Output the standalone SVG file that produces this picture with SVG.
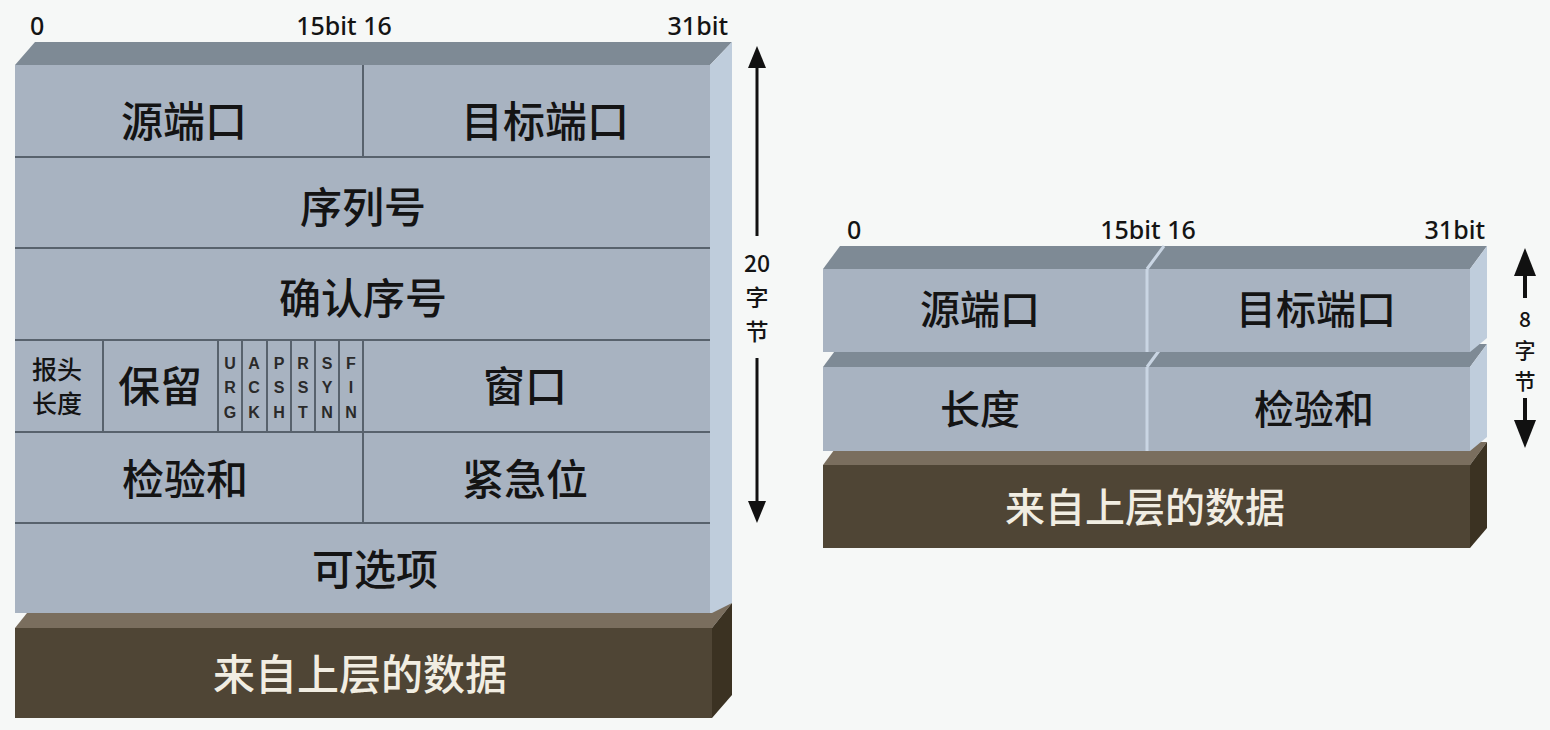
<svg xmlns="http://www.w3.org/2000/svg" width="1550" height="730" viewBox="0 0 1550 730">
<defs>
<style>
.bg{fill:#f6f8f7}
.front{fill:#a8b3c1}
.top{fill:#7e8a95}
.side{fill:#bfcddc}
.dfront{fill:#4f4535}
.dtop{fill:#7a6e5e}
.dside{fill:#3b3222}
.ln{stroke:#58626d;stroke-width:2;fill:none}
.seam{stroke:#c9d5e3;stroke-width:3;fill:none}
.cn{font-family:"Noto Sans CJK SC","Noto Sans",sans-serif;fill:#141414;text-anchor:middle;font-weight:500}
.big{font-size:42px}
.rbig{font-size:40px}
.mid{font-size:23px}
.sm{font-size:21px}
.hl{font-size:25px}
.bit{font-family:"Noto Sans","Open Sans",sans-serif;font-size:25px;fill:#141414;font-weight:500}
.flag{font-family:"Liberation Sans",Arial,sans-serif;font-size:16px;font-weight:bold;fill:#2a2a2a;text-anchor:middle}
.dtxt{font-family:"Noto Sans CJK SC","Noto Sans",sans-serif;font-size:42px;fill:#f1ede2;text-anchor:middle;font-weight:500}
.arr{stroke:#111;stroke-width:3;fill:none}
.arrh{fill:#111}
</style>
</defs>
<rect class="bg" x="0" y="0" width="1550" height="730"/>

<!-- LEFT: TCP header -->
<g id="tcp-bits">
<text class="bit" x="30" y="35">0</text>
<text class="bit" x="344" y="35" text-anchor="middle">15bit 16</text>
<text class="bit" x="728" y="35" text-anchor="end">31bit</text>
</g>
<g id="tcp-data">
<polygon class="dtop" points="15,628 712,628 732,603 35,603"/>
<rect class="dfront" x="15" y="628" width="697" height="90"/>
<polygon class="dside" points="712,628 732,603 732,695 712,718"/>
<text class="dtxt" x="360" y="690">来自上层的数据</text>
</g>
<g id="tcp-header">
<polygon class="top" points="15,65 710,65 732,42 35,42"/>
<polygon class="side" points="710,65 732,42 732,603 712,613 710,613"/>
<rect class="front" x="15" y="65" width="695" height="548"/>
<path class="ln" d="M15,157H710M15,248H710M15,340H710M15,432H710M15,523H710"/>
<path class="ln" d="M363,65V157M363,340V523M103,340V432M218,340V432M242,340V432M267,340V432M291,340V432M315,340V432M339,340V432"/>
</g>
<g id="src-port"><text class="cn big" x="184" y="137">源端口</text></g>
<g id="dst-port"><text class="cn big" x="545" y="137">目标端口</text></g>
<g id="seq"><text class="cn big" x="363" y="223">序列号</text></g>
<g id="ack"><text class="cn big" x="363" y="314">确认序号</text></g>
<g id="hdr-len"><text class="cn hl" x="57" y="379">报头</text><text class="cn hl" x="57" y="413">长度</text></g>
<g id="reserved"><text class="cn big" x="160" y="402">保留</text></g>
<g id="flags">
<text class="flag" x="230" y="369">U</text><text class="flag" x="230" y="393">R</text><text class="flag" x="230" y="418">G</text>
<text class="flag" x="254" y="369">A</text><text class="flag" x="254" y="393">C</text><text class="flag" x="254" y="418">K</text>
<text class="flag" x="279" y="369">P</text><text class="flag" x="279" y="393">S</text><text class="flag" x="279" y="418">H</text>
<text class="flag" x="303" y="369">R</text><text class="flag" x="303" y="393">S</text><text class="flag" x="303" y="418">T</text>
<text class="flag" x="327" y="369">S</text><text class="flag" x="327" y="393">Y</text><text class="flag" x="327" y="418">N</text>
<text class="flag" x="351" y="369">F</text><text class="flag" x="351" y="393">I</text><text class="flag" x="351" y="418">N</text>
</g>
<g id="window"><text class="cn big" x="525" y="402">窗口</text></g>
<g id="checksum"><text class="cn big" x="185" y="495">检验和</text></g>
<g id="urgent"><text class="cn big" x="525" y="495">紧急位</text></g>
<g id="options"><text class="cn big" x="375" y="585">可选项</text></g>
<g id="tcp-size">
<text class="cn mid" x="757" y="272">20</text>
<text class="cn mid" x="757" y="306">字</text>
<text class="cn mid" x="757" y="340">节</text>
</g>

<!-- RIGHT: UDP header -->
<g id="udp-bits">
<text class="bit" x="847" y="239">0</text>
<text class="bit" x="1148" y="239" text-anchor="middle">15bit 16</text>
<text class="bit" x="1485" y="239" text-anchor="end">31bit</text>
</g>
<g id="udp-data">
<polygon class="dtop" points="823,465 1470,465 1487,442 840,442"/>
<rect class="dfront" x="823" y="465" width="647" height="83"/>
<polygon class="dside" points="1470,465 1487,442 1487,528 1470,548"/>
<text class="dtxt" x="1145" y="522" style="font-size:40px">来自上层的数据</text>
</g>
<g id="udp-row2">
<polygon class="top" points="823,367 1470,367 1487,344 840,344"/>
<polygon class="side" points="1470,367 1487,344 1487,437 1470,451"/>
<rect class="front" x="823" y="367" width="647" height="84"/>
<path class="seam" d="M1147,367V451M1147,367L1164,344"/>
</g>
<g id="udp-row1">
<polygon class="top" points="823,269 1470,269 1487,246 840,246"/>
<polygon class="side" points="1470,269 1487,246 1487,338 1470,352"/>
<rect class="front" x="823" y="269" width="647" height="83"/>
<path class="seam" d="M1147,269V352M1147,269L1164,246"/>
</g>
<g id="udp-src"><text class="cn rbig" x="980" y="324">源端口</text></g>
<g id="udp-dst"><text class="cn rbig" x="1316" y="324">目标端口</text></g>
<g id="udp-len"><text class="cn rbig" x="980" y="424">长度</text></g>
<g id="udp-check"><text class="cn rbig" x="1314" y="424">检验和</text></g>
<g id="udp-size">
<text class="cn sm" x="1525" y="327">8</text>
<text class="cn sm" x="1525" y="358">字</text>
<text class="cn sm" x="1525" y="389">节</text>
</g>

<g id="connectors">
<line class="arr" x1="757" y1="64" x2="757" y2="236"/>
<polygon class="arrh" points="757,46 748,68 766,68"/>
<line class="arr" x1="757" y1="358" x2="757" y2="505"/>
<polygon class="arrh" points="757,523 748,501 766,501"/>
<line class="arr" x1="1525" y1="270" x2="1525" y2="298" style="stroke-width:4"/>
<polygon class="arrh" points="1525,248 1514,276 1536,276"/>
<line class="arr" x1="1525" y1="398" x2="1525" y2="424" style="stroke-width:4"/>
<polygon class="arrh" points="1525,448 1514,420 1536,420"/>
</g>
</svg>
